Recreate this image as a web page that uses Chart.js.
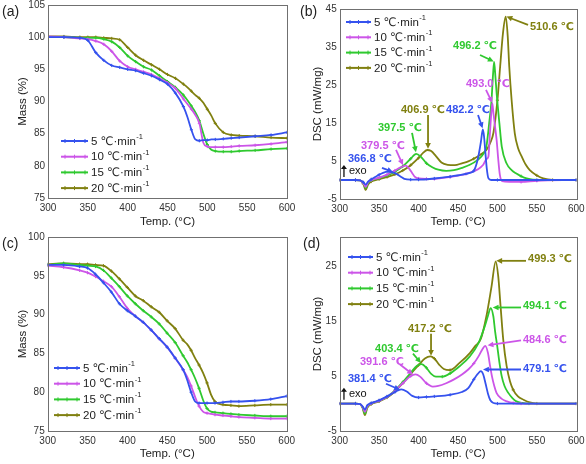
<!DOCTYPE html>
<html>
<head>
<meta charset="utf-8">
<script src="https://cdn.jsdelivr.net/npm/chart.js@4.4.1/dist/chart.umd.min.js"></script>
<style>
  body { margin: 0; background: #fff; width: 586px; height: 464px; position: relative; overflow: hidden; }
  canvas { position: absolute; }
</style>
</head>
<body>
<canvas id="chartA" width="305" height="232" style="left:0;top:0"></canvas>
<canvas id="chartB" width="293" height="232" style="left:293px;top:0"></canvas>
<canvas id="chartC" width="305" height="232" style="left:0;top:232px"></canvas>
<canvas id="chartD" width="293" height="232" style="left:293px;top:232px"></canvas>
<script>
const rates = ['5', '10', '15', '20'];
const seriesColors = ['#3552ee', '#cc55e8', '#2fc92f', '#808010'];

// TGA, shared temperature grid (°C)
const tgaTemp = [300,320,340,350,360,370,380,390,400,410,420,430,440,450,460,470,475,480,485,490,495,500,505,510,520,530,540,560,580,600];
// panel (a) mass (%)
const massA5  = [100.0,100.0,99.9,99.5,97.6,96.4,95.6,95.3,95.0,94.8,94.4,94.0,93.4,92.7,91.3,89.2,87.6,85.6,84.1,83.9,84.0,84.0,84.1,84.1,84.2,84.3,84.4,84.6,84.8,85.2];
const massA10 = [100.1,100.0,99.8,99.7,99.4,98.9,97.8,96.3,95.4,95.0,94.6,94.2,93.6,92.9,92.0,90.4,89.6,88.8,87.9,86.6,83.6,83.0,82.9,82.9,82.9,83.0,83.1,83.2,83.4,83.7];
const massA15 = [100.0,100.0,99.9,99.9,99.9,99.7,99.3,98.4,97.1,96.2,95.4,94.9,94.0,93.1,92.2,91.0,90.2,89.3,88.3,87.0,85.0,83.3,82.5,82.3,82.2,82.2,82.3,82.4,82.6,82.7];
const massA20 = [100.1,100.1,100.0,100.0,100.0,99.9,99.8,99.6,98.4,97.2,96.4,95.7,95.0,94.2,93.6,92.7,92.2,91.6,91.0,90.5,89.8,88.8,87.8,86.6,85.2,84.8,84.7,84.6,84.4,84.3];
// panel (c) mass (%)
const massC5  = [96.4,96.4,96.2,96.0,95.2,94.1,92.9,91.4,90.5,89.8,89.0,88.0,86.9,85.8,84.4,82.9,81.6,80.0,78.8,78.6,78.6,78.6,78.6,78.6,78.7,78.8,78.8,78.9,79.1,79.5];
const massC10 = [96.3,96.1,95.7,95.4,94.9,94.3,93.6,92.3,90.8,89.8,89.0,88.0,86.9,85.8,84.4,82.9,82.0,80.8,79.4,78.2,77.5,77.3,77.2,77.1,77.0,76.9,76.8,76.7,76.6,76.6];
const massC15 = [96.4,96.6,96.4,96.3,96.2,95.7,94.7,93.6,92.4,91.4,90.5,89.7,88.8,87.6,86.4,84.7,83.9,82.9,81.8,80.5,79.0,77.9,77.5,77.4,77.3,77.2,77.1,77.0,76.9,76.9];
const massC20 = [96.5,96.6,96.5,96.5,96.4,96.3,95.6,94.6,93.5,92.4,91.8,91.0,90.3,89.2,88.2,86.7,86.2,85.4,84.4,83.5,82.5,81.2,79.7,78.8,78.4,78.3,78.2,78.3,78.4,78.4];

// panel (b) DSC (mW/mg)
const tempB5  = [300,320,326,330,333,336,340,345,350,355,361,366,372,378,382,390,400,420,440,455,465,470,474,477,479,481.5,483,485,486.5,488.5,492,500,550,600];
const dscB5   = [0,0,-0.1,-0.6,-1.2,-0.4,0.2,0.8,1.4,1.9,2.2,2.1,1.6,0.8,0.3,0.1,0.1,0.4,0.9,1.4,1.9,2.4,4.6,7.5,10.0,13.3,11.5,6.5,3.0,0.5,0,0,0,0];
const tempB10 = [300,320,326,330,333,336,340,350,360,370,378,384,388,392,395,400,410,420,440,460,475,482,486,488.5,490.5,492,493.5,495,497,499,501,503,506,515,530,550,600];
const dscB10  = [0,0,-0.1,-0.8,-1.8,-0.6,0,0.6,1.4,2.5,3.4,3.8,3.0,1.8,0.9,0.4,0.3,0.3,0.8,1.6,2.8,4.0,5.5,6.1,12.3,17.0,20.2,17.5,14.0,10.5,5.5,1.5,-0.3,-0.5,-0.5,-0.2,0];
const tempB15 = [300,320,326,330,333,336,340,350,360,370,380,390,397,403,410,418,425,435,445,455,465,475,482,486,489.5,492.5,494.5,495.8,497.5,499,502.5,505.5,511.5,518,524,530,537,545,600];
const dscB15  = [0,0,-0.1,-0.8,-2.1,-0.8,-0.1,0.5,1.2,2.2,3.6,5.6,6.9,6.1,4.4,3.3,2.7,2.4,2.6,3.2,4.0,5.3,6.8,8.8,14.9,21,28,31.1,27,22.8,14.9,8.8,4.4,2.6,1.7,1.0,0.4,0.1,0];
const tempB20 = [300,320,326,330,333,336,340,350,360,370,380,390,400,406,411,416,422,429,437,446,455,463,470,478,486,491,495,500,503.5,507,510.5,513,515,518,522,526,531,536,541,550,558,570,600];
const dscB20  = [0,0,-0.1,-1.0,-2.6,-1.2,-0.4,0.2,0.8,1.5,2.5,3.9,5.8,7.2,7.9,7.6,6.3,4.6,4.0,3.9,4.4,4.9,5.6,6.6,7.9,9.8,12.5,21,30,38.6,43,38,29.8,21,12.3,8.5,6.1,4.0,2.6,1.2,0.4,0,0];

// panel (d) DSC (mW/mg)
const tempD5  = [300,320,326,329,332,335,340,350,360,370,378,385,392,400,410,420,440,455,463,470,475,479,482,485,488,491,495,500,600];
const dscD5   = [0,0,-0.1,-0.5,-1.1,-0.3,0.1,0.6,1.3,2.1,2.6,2.2,1.4,1.1,1.2,1.3,1.6,2.1,2.8,4.4,5.4,5.9,5.3,3.6,1.8,0.6,0.1,0,0];
const tempD10 = [300,320,326,329,332,335,340,350,360,370,380,390,396,402,410,418,425,435,445,455,463,470,476,481,484.5,488,490.5,493,496,499,505,512,520,530,600];
const dscD10  = [0,0,-0.1,-0.6,-1.5,-0.5,0,0.5,1.2,2.3,3.7,5.0,5.3,4.9,3.7,3.1,3.2,3.7,4.4,5.3,6.2,7.3,8.6,9.9,10.5,9.2,7.0,5.0,3.2,1.9,0.9,0.4,0.1,0,0];
const tempD15 = [300,320,326,329,332,335,340,350,360,370,380,390,398,404,410,416,422,430,440,452,465,476,484,488,491.4,494.8,497,499.8,502.5,505.4,509,514,519,524,532,540,600];
const dscD15  = [0,0,-0.1,-0.7,-1.8,-0.6,0,0.5,1.2,2.4,3.9,5.6,6.9,7.2,6.5,5.4,4.9,4.9,5.5,6.8,8.6,11.0,14.1,16.0,17.4,15.9,13.2,10.4,7.5,5.0,3.2,1.9,1.0,0.4,0.1,0,0];
const tempD20 = [300,320,326,329,332,335,340,350,360,370,380,390,400,408,415,420,426,432,440,452,465,472,479,486,492.5,497.8,501,504,507.4,511.7,516,520,526,533,541,550,600];
const dscD20  = [0,0,-0.1,-0.8,-2.1,-0.8,-0.1,0.4,1.1,2.2,3.7,5.4,7.0,8.2,8.6,8.2,7.1,6.3,6.1,7.4,9.2,10.5,11.8,15.9,21.3,25.9,23.2,17.7,11.6,6.8,4.0,2.5,1.3,0.7,0.2,0,0];

// peak labels
const bPeakText = ['366.8 ℃','379.5 ℃','397.5 ℃','406.9 ℃','482.2 ℃','493.0 ℃','496.2 ℃','510.6 ℃'];
const bPeakSeries = [0,1,2,3,0,1,2,3];
const dPeakText = ['381.4 ℃','391.6 ℃','403.4 ℃','417.2 ℃','479.1 ℃','484.6 ℃','494.1 ℃','499.3 ℃'];
const dPeakSeries = [0,1,2,3,0,1,2,3];

// where each label sits and where its arrow runs (axis units)
const bNoteSpots = [
  { tx: 310.5, ty: 5.5,  from: [353.6, 3.2],  to: [367.6, 2.1] },
  { tx: 327,   ty: 8.9,  from: [371.4, 7.9],  to: [380.3, 3.9] },
  { tx: 348.5, ty: 13.7, from: [391.7, 12.4], to: [396.7, 7.3] },
  { tx: 377.7, ty: 18.4, from: [412, 17.1],   to: [412, 8.2] },
  { tx: 434.8, ty: 18.4, from: [475.4, 17.1], to: [481.2, 13.6] },
  { tx: 460.1, ty: 25.3, from: [485.5, 23.7], to: [493.5, 20.3] },
  { tx: 443.7, ty: 35.3, from: [477.9, 32.9], to: [495.3, 31.2] },
  { tx: 541.3, ty: 40.3, from: [538.8, 40.8], to: [511.5, 43.0] }
];
const dNoteSpots = [
  { tx: 310.5, ty: 4.5,  from: [358.7, 3.6],  to: [376.5, 2.5] },
  { tx: 325.7, ty: 7.5,  from: [376.5, 7.1],  to: [392.9, 5.3] },
  { tx: 344.8, ty: 10.0, from: [392.9, 9.1],  to: [403.1, 7.4] },
  { tx: 386.6, ty: 13.6, from: [415.8, 12.7], to: [415.8, 8.7] },
  { tx: 532.4, ty: 6.3,  from: [529.9, 6.2],  to: [481.7, 6.2] },
  { tx: 532.4, ty: 11.6, from: [529.9, 11.5], to: [487.5, 10.6] },
  { tx: 532.4, ty: 17.7, from: [529.9, 17.5], to: [494.0, 17.5] },
  { tx: 538.8, ty: 26.4, from: [536.2, 26.0], to: [498.5, 26.0] }
];

const FONT = "'Liberation Sans',Arial,'DejaVu Sans',sans-serif";

function pts(xs, ys) {
  return xs.map((x, i) => ({ x: x, y: ys[i] }));
}

function makeDatasets(pairs) {
  return pairs.map((p, i) => ({
    label: rates[i] + ' ℃·min-1',
    data: pts(p[0], p[1]),
    borderColor: seriesColors[i],
    backgroundColor: seriesColors[i],
    borderWidth: 1.8,
    pointStyle: 'cross',
    pointRadius: c => (c.raw && c.raw.x % 10 === 0) ? 1.6 : 0,
    pointBorderWidth: 1,
    cubicInterpolationMode: 'monotone',
    fill: false
  }));
}

function drawArrow(ctx, x1, y1, x2, y2, color) {
  const ang = Math.atan2(y2 - y1, x2 - x1);
  const head = 6.5;
  ctx.strokeStyle = color;
  ctx.fillStyle = color;
  ctx.lineWidth = 1.8;
  ctx.beginPath();
  ctx.moveTo(x1, y1);
  ctx.lineTo(x2 - Math.cos(ang) * head * 0.7, y2 - Math.sin(ang) * head * 0.7);
  ctx.stroke();
  ctx.beginPath();
  ctx.moveTo(x2, y2);
  ctx.lineTo(x2 - head * Math.cos(ang - 0.45), y2 - head * Math.sin(ang - 0.45));
  ctx.lineTo(x2 - head * Math.cos(ang + 0.45), y2 - head * Math.sin(ang + 0.45));
  ctx.closePath();
  ctx.fill();
}

const panelDecor = {
  id: 'panelDecor',
  afterDatasetsDraw(chart, args, opts) {
    const ctx = chart.ctx;
    const area = chart.chartArea;
    const xs = chart.scales.x, ys = chart.scales.y;
    ctx.save();

    // frame
    ctx.strokeStyle = '#707070';
    ctx.lineWidth = 1;
    ctx.strokeRect(Math.round(area.left) + 0.5, Math.round(area.top) + 0.5,
      Math.round(area.right - area.left), Math.round(area.bottom - area.top));

    // panel letter
    ctx.fillStyle = '#222';
    ctx.font = '14px ' + FONT;
    ctx.textBaseline = 'alphabetic';
    ctx.textAlign = 'left';
    ctx.fillText(opts.label, opts.labelX, 16);

    // legend
    const lg = opts.legend;
    chart.data.datasets.forEach((ds, i) => {
      const y = lg.y + i * lg.dy;
      ctx.strokeStyle = ds.borderColor;
      ctx.lineWidth = 2;
      ctx.beginPath();
      ctx.moveTo(lg.x1, y);
      ctx.lineTo(lg.x2, y);
      ctx.stroke();
      ctx.lineWidth = 1;
      for (const mx of [lg.x1 + 4, (lg.x1 + lg.x2) / 2, lg.x2 - 3]) {
        ctx.beginPath();
        ctx.moveTo(mx, y - 2);
        ctx.lineTo(mx, y + 2);
        ctx.stroke();
      }
      ctx.fillStyle = '#222';
      ctx.font = '11.5px ' + FONT;
      ctx.textBaseline = 'middle';
      const main = rates[i] + ' ℃·min';
      ctx.fillText(main, lg.x2 + 3, y + 0.5);
      const w = ctx.measureText(main).width;
      ctx.font = '7.5px ' + FONT;
      ctx.fillText('-1', lg.x2 + 3.5 + w, y - 4);
    });

    // peak notes
    if (opts.notes) {
      opts.notes.text.forEach((t, i) => {
        const spot = opts.notes.spots[i];
        const color = seriesColors[opts.notes.series[i]];
        drawArrow(ctx, xs.getPixelForValue(spot.from[0]), ys.getPixelForValue(spot.from[1]),
          xs.getPixelForValue(spot.to[0]), ys.getPixelForValue(spot.to[1]), color);
        ctx.fillStyle = color;
        ctx.font = 'bold 11px ' + FONT;
        ctx.textBaseline = 'middle';
        ctx.fillText(t, xs.getPixelForValue(spot.tx), ys.getPixelForValue(spot.ty));
      });
      // exo marker
      const ex = xs.getPixelForValue(opts.exo[0]), ey = ys.getPixelForValue(opts.exo[1]);
      ctx.strokeStyle = '#111';
      ctx.fillStyle = '#111';
      ctx.lineWidth = 1.3;
      ctx.beginPath();
      ctx.moveTo(ex + 3, ey + 6);
      ctx.lineTo(ex + 3, ey - 4);
      ctx.stroke();
      ctx.beginPath();
      ctx.moveTo(ex + 3, ey - 6);
      ctx.lineTo(ex, ey - 2);
      ctx.lineTo(ex + 6, ey - 2);
      ctx.closePath();
      ctx.fill();
      ctx.font = '11px ' + FONT;
      ctx.fillText('exo', ex + 8, ey + 0.5);
    }
    ctx.restore();
  }
};

function makePanel(id, box, yAxis, datasets, decor) {
  const canvas = document.getElementById(id);
  const w = canvas.width, h = canvas.height;
  return new Chart(canvas, {
    type: 'line',
    data: { datasets: datasets },
    options: {
      responsive: false,
      animation: false,
      devicePixelRatio: 1,
      layout: { padding: { top: box.top, right: w - box.right, bottom: 0, left: 0 } },
      plugins: { legend: { display: false }, tooltip: { enabled: false }, panelDecor: decor },
      scales: {
        x: {
          type: 'linear', min: 300, max: 600,
          grid: { display: false, drawTicks: false },
          border: { display: false },
          ticks: { stepSize: 50, maxRotation: 0, padding: 4, color: '#333', font: { size: 10, family: FONT } },
          title: { display: true, text: 'Temp. (°C)', color: '#222', font: { size: 11.5, family: FONT }, padding: { top: 0, bottom: 3 } },
          afterFit: s => { s.height = h - box.bottom; s.paddingLeft = 0; s.paddingRight = 0; }
        },
        y: {
          min: yAxis.min, max: yAxis.max,
          grid: { display: false, drawTicks: false },
          border: { display: false },
          ticks: { stepSize: yAxis.step, padding: 3, color: '#333', font: { size: 10, family: FONT } },
          afterBuildTicks: yAxis.ticks ? s => { s.ticks = yAxis.ticks.map(v => ({ value: v })); } : undefined,
          title: { display: true, text: yAxis.title, color: '#222', font: { size: 11.5, family: FONT }, padding: { top: yAxis.titlePad, bottom: 0 } },
          afterFit: s => { s.width = box.left; s.paddingTop = 0; s.paddingBottom = 0; }
        }
      }
    },
    plugins: [panelDecor]
  });
}

makePanel('chartA', { left: 48, right: 287, top: 5, bottom: 198 },
  { min: 75, max: 105, step: 5, title: 'Mass (%)', titlePad: 16 },
  makeDatasets([[tgaTemp, massA5], [tgaTemp, massA10], [tgaTemp, massA15], [tgaTemp, massA20]]),
  { label: '(a)', labelX: 2, legend: { x1: 61, x2: 88, y: 141, dy: 15.7 } });

makePanel('chartB', { left: 46.7, right: 283.3, top: 9, bottom: 199 },
  { min: -5, max: 45, step: 10, title: 'DSC (mW/mg)', titlePad: 18 },
  makeDatasets([[tempB5, dscB5], [tempB10, dscB10], [tempB15, dscB15], [tempB20, dscB20]]),
  { label: '(b)', labelX: 7, legend: { x1: 53, x2: 78, y: 22, dy: 15.3 },
    notes: { text: bPeakText, series: bPeakSeries, spots: bNoteSpots }, exo: [301.6, 2.4] });

makePanel('chartC', { left: 47.7, right: 286.7, top: 5, bottom: 199 },
  { min: 75, max: 100, step: 5, title: 'Mass (%)', titlePad: 16 },
  makeDatasets([[tgaTemp, massC5], [tgaTemp, massC10], [tgaTemp, massC15], [tgaTemp, massC20]]),
  { label: '(c)', labelX: 2, legend: { x1: 54, x2: 80, y: 136, dy: 15.7 } });

makePanel('chartD', { left: 46.7, right: 283.3, top: 5, bottom: 199 },
  { min: -5, max: 30.34, ticks: [-5, 5, 15, 25], title: 'DSC (mW/mg)', titlePad: 18 },
  makeDatasets([[tempD5, dscD5], [tempD10, dscD10], [tempD15, dscD15], [tempD20, dscD20]]),
  { label: '(d)', labelX: 10, legend: { x1: 55, x2: 80, y: 25, dy: 15.7 },
    notes: { text: dPeakText, series: dPeakSeries, spots: dNoteSpots }, exo: [301.6, 1.8] });
</script>
</body>
</html>
